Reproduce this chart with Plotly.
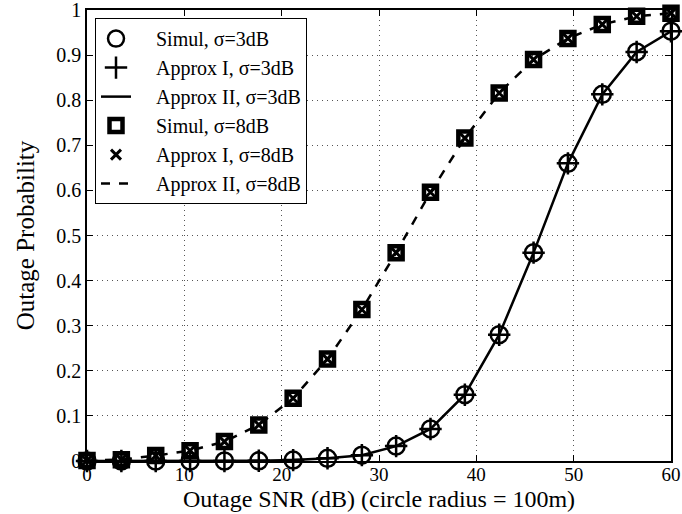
import plotly.graph_objects as go

snr_db = [0, 3.53, 7.06, 10.59, 14.12, 17.65, 21.18, 24.71, 28.24, 31.76,
          35.29, 38.82, 42.35, 45.88, 49.41, 52.94, 56.47, 60]

simul_3db = [0, 0, 0, 0, 0, 0.0005, 0.002, 0.006, 0.013, 0.033,
             0.071, 0.147, 0.280, 0.462, 0.660, 0.813, 0.907, 0.953]
approx1_3db = [0, 0, 0, 0, 0, 0.0005, 0.002, 0.006, 0.013, 0.033,
               0.071, 0.147, 0.280, 0.462, 0.660, 0.813, 0.907, 0.953]
approx2_3db = [0, 0, 0, 0, 0, 0.0005, 0.002, 0.006, 0.013, 0.033,
               0.071, 0.147, 0.280, 0.462, 0.660, 0.813, 0.907, 0.953]

simul_8db = [0.001, 0.003, 0.012, 0.023, 0.043, 0.080, 0.139, 0.226, 0.336, 0.462,
             0.596, 0.716, 0.816, 0.890, 0.937, 0.968, 0.986, 0.993]
approx1_8db = [0.001, 0.003, 0.012, 0.023, 0.043, 0.080, 0.139, 0.226, 0.336, 0.462,
               0.596, 0.716, 0.816, 0.890, 0.937, 0.968, 0.986, 0.993]
approx2_8db = [0.001, 0.003, 0.012, 0.023, 0.043, 0.080, 0.139, 0.226, 0.336, 0.462,
               0.596, 0.716, 0.816, 0.890, 0.937, 0.968, 0.986, 0.993]

x_ticks = [0, 10, 20, 30, 40, 50, 60]
y_ticks = [0, 0.1, 0.2, 0.3, 0.4, 0.5, 0.6, 0.7, 0.8, 0.9, 1]
y_tick_labels = ["0", "0.1", "0.2", "0.3", "0.4", "0.5", "0.6", "0.7", "0.8", "0.9", "1"]

legend_names = ["Simul, σ=3dB", "Approx I, σ=3dB", "Approx II, σ=3dB",
                "Simul, σ=8dB", "Approx I, σ=8dB", "Approx II, σ=8dB"]
x_title = "Outage SNR (dB) (circle radius = 100m)"
y_title = "Outage Probability"

FONT = "Liberation Serif"
BLACK = "black"
PAD = "\u00a0" * 4

fig = go.Figure()

fig.add_trace(go.Scatter(
    x=snr_db, y=simul_3db, mode="markers", name=PAD + legend_names[0], legendgroup="a",
    marker=dict(symbol="circle-open", size=17, color=BLACK, line=dict(width=2.5, color=BLACK)),
    cliponaxis=False))
fig.add_trace(go.Scatter(
    x=snr_db, y=approx1_3db, mode="markers", name=PAD + legend_names[1], legendgroup="b",
    marker=dict(symbol="cross-thin", size=16, color=BLACK, line=dict(width=2.5, color=BLACK)),
    cliponaxis=False))
fig.add_trace(go.Scatter(
    x=snr_db, y=approx2_3db, mode="lines", name=PAD + legend_names[2], legendgroup="c",
    line=dict(color=BLACK, width=2.5), cliponaxis=False))
fig.add_trace(go.Scatter(
    x=snr_db, y=simul_8db, mode="markers", name=PAD + legend_names[3], legendgroup="d",
    marker=dict(symbol="square-open", size=13, color=BLACK, line=dict(width=4.5, color=BLACK)),
    cliponaxis=False))
fig.add_trace(go.Scatter(
    x=snr_db, y=approx1_8db, mode="markers", name=PAD + legend_names[4], legendgroup="e",
    marker=dict(symbol="x-thin", size=10, color=BLACK, line=dict(width=3, color=BLACK)),
    cliponaxis=False))
fig.add_trace(go.Scatter(
    x=snr_db, y=approx2_8db, mode="lines", name=PAD + legend_names[5], legendgroup="f",
    line=dict(color=BLACK, width=2.5, dash="dash"), cliponaxis=False))

axis_common = dict(
    showline=True, linecolor=BLACK, linewidth=1.5, mirror="allticks",
    ticks="inside", ticklen=6, tickwidth=1, tickcolor=BLACK,
    showgrid=True, gridcolor="#555555", gridwidth=1, griddash="1px,4px",
    zeroline=False, automargin=False, ticklabeloverflow="allow",
)

fig.update_xaxes(
    range=[0, 60], tickvals=x_ticks, ticktext=[str(t) for t in x_ticks],
    tickfont=dict(family=FONT, size=19, color=BLACK), ticklabelstandoff=-5,
    **axis_common)
fig.update_yaxes(
    range=[0, 1], tickvals=y_ticks, ticktext=y_tick_labels,
    tickfont=dict(family=FONT, size=20, color=BLACK),
    title=dict(text=y_title, font=dict(family=FONT, size=25, color=BLACK)),
    **axis_common)

fig.add_annotation(
    text=x_title, xref="paper", yref="paper", x=0.5, y=-0.1153,
    xanchor="center", yanchor="bottom", showarrow=False, borderpad=0,
    font=dict(family=FONT, size=24, color=BLACK))

fig.update_layout(
    width=682, height=514,
    margin=dict(l=87, r=11, t=10, b=53, autoexpand=False),
    paper_bgcolor="white", plot_bgcolor="white",
    font=dict(family=FONT, color=BLACK),
    showlegend=True,
    legend=dict(
        x=0.0137, y=0.982, xanchor="left", yanchor="top",
        bgcolor="white", bordercolor=BLACK, borderwidth=1,
        font=dict(family=FONT, size=20, color=BLACK),
        tracegroupgap=0, itemsizing="trace",
    ),
)

fig.write_html("out.html")
